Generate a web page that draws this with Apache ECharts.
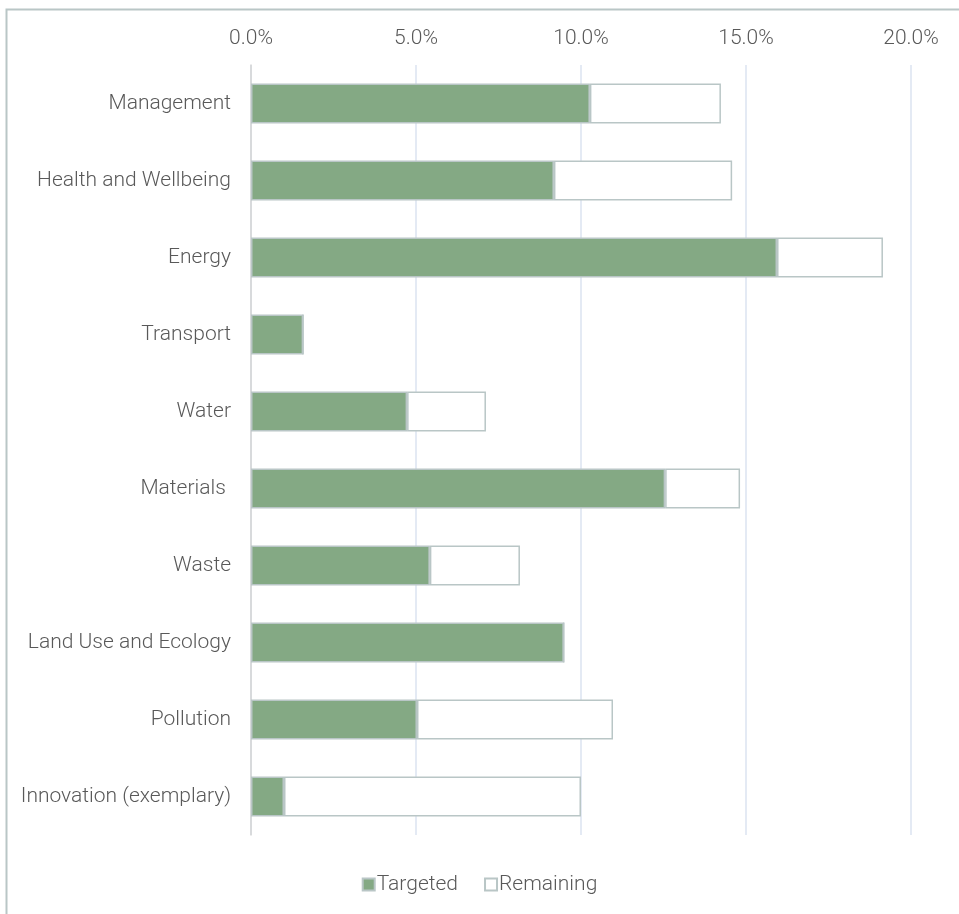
<!DOCTYPE html>
<html>
<head>
<meta charset="utf-8">
<script src="https://cdn.jsdelivr.net/npm/echarts@6/dist/echarts.min.js"></script>
<style>
  html, body { margin: 0; padding: 0; background: #fff; }
  #chart { width: 959px; height: 914px; }
</style>
</head>
<body>
<div id="chart"></div>
<script>
// categories top to bottom
var categories = ['Management', 'Health and Wellbeing', 'Energy', 'Transport', 'Water',
    'Materials ', 'Waste', 'Land Use and Ecology', 'Pollution', 'Innovation (exemplary)'];
// percent values
var targeted = [10.27, 9.18, 15.94, 1.58, 4.73, 12.55, 5.42, 9.48, 5.03, 1.0];
var remaining = [3.97, 5.40, 3.21, 0, 2.39, 2.27, 2.73, 0, 5.94, 9.0];
var xTicks = [0, 5, 10, 15, 20];

var chart = echarts.init(document.getElementById('chart'));
var txt = '#595959';
var option = {
    textStyle: { fontFamily: 'Roboto', fontWeight: 300 },
    graphic: [{
        type: 'rect',
        shape: { x: 6.5, y: 9.5, width: 970, height: 920 },
        style: { fill: 'none', stroke: '#b9c6c6', lineWidth: 2 },
        silent: true
    }],
    grid: { left: 251, right: 48, top: 65, bottom: 79 },
    legend: {
        bottom: 14,
        left: 'center',
        data: ['Targeted', 'Remaining'],
        icon: 'rect',
        itemWidth: 12,
        itemHeight: 12,
        itemGap: 26,
        textStyle: { color: txt, fontSize: 21, fontWeight: 300, padding: [0, 0, 0, -3] }
    },
    xAxis: {
        type: 'value',
        position: 'top',
        min: xTicks[0],
        max: xTicks[xTicks.length - 1],
        interval: 5,
        axisLine: { show: false },
        axisTick: { show: false },
        axisLabel: {
            color: txt, fontSize: 21, fontWeight: 300, margin: 16,
            formatter: function (v) { return v.toFixed(1) + '%'; }
        },
        splitLine: { lineStyle: { color: '#dbe3f0', width: 1.5 } }
    },
    yAxis: {
        type: 'category',
        inverse: true,
        data: categories,
        axisLine: { lineStyle: { color: '#d4d4d4', width: 1.5 } },
        axisTick: { show: false },
        axisLabel: { color: txt, fontSize: 21, fontWeight: 300, margin: 20 }
    },
    series: [
        {
            name: 'Targeted',
            type: 'bar',
            stack: 'total',
            barWidth: 40,
            data: targeted,
            itemStyle: { color: '#84a984', borderColor: '#b9c6c6', borderWidth: 1.5 }
        },
        {
            name: 'Remaining',
            type: 'bar',
            stack: 'total',
            barWidth: 40,
            data: remaining,
            itemStyle: { color: '#ffffff', borderColor: '#b9c6c6', borderWidth: 1.5 }
        }
    ]
};
chart.setOption(option);
</script>
</body>
</html>
